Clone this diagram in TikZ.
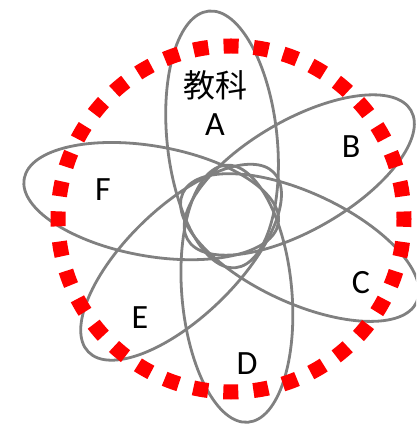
\documentclass[tikz,border=0pt]{standalone}
\usepackage{fontspec}
\setmainfont{Carlito}
\newfontfamily\jpfont{Noto Sans CJK JP}
\definecolor{ringgray}{RGB}{128,128,128}
\definecolor{dotred}{RGB}{255,0,0}
\tikzset{
  petal/.style={draw=ringgray,line width=2.8pt},
  rim/.style={draw=dotred,line width=15pt,dash pattern=on 15pt off 15.19pt,dash phase=7.5pt},
  tag/.style={font=\fontsize{34}{40}\selectfont,inner sep=0pt}
}

\begin{document}
\begin{tikzpicture}[x=1pt,y=1pt]
  \path[use as bounding box,clip] (0,0) rectangle (416,425);
  \coordinate (O) at (230,210);
  \coordinate (M) at (231,206);
  % six overlapping petals (angle/offset)
  \foreach \ang/\d in {96/76,30/80,-25/77,-85/79,-136/68,170/80}
    \draw[petal,shift={(O)},rotate=\ang] (\d,0) ellipse [x radius=129,y radius=55];
  % dotted rim
  \draw[rim] (M) circle [radius=173];
  \node[tag,font=\jpfont\fontsize{32}{38}\selectfont] (subj) at (215,340) {教科};
  \node[tag] (labA) at (215,300) {A};
  \node[tag] (labB) at (351,278) {B};
  \node[tag] (labC) at (361,142) {C};
  \node[tag] (labD) at (247,61) {D};
  \node[tag] (labE) at (140,107) {E};
  \node[tag] (labF) at (103,235) {F};
\end{tikzpicture}
\end{document}
